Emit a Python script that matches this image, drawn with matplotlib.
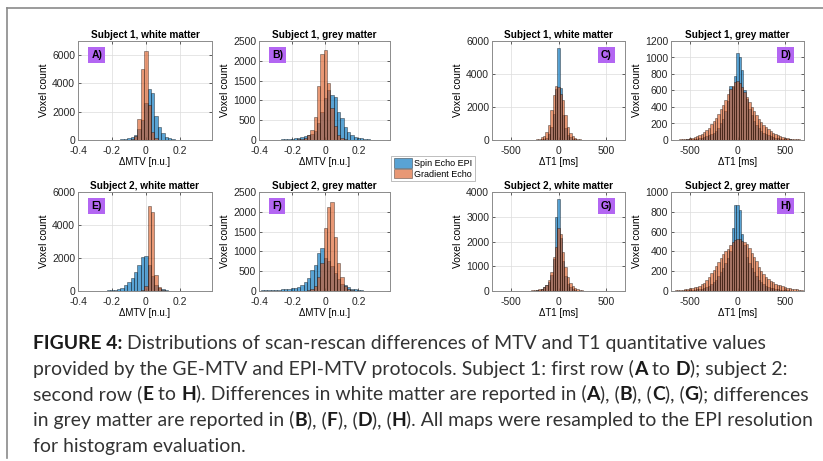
import matplotlib
matplotlib.use('Agg')
import matplotlib.pyplot as plt
from matplotlib.patches import Patch
from matplotlib.lines import Line2D
import numpy as np

# bin centres (MTV in n.u., T1 in ms)
MTV_CENTERS = np.round(np.arange(-0.38, 0.365, 0.02), 2)
MTV_WIDTH = 0.02
T1_CENTERS = np.arange(-675, 676, 25)
T1_WIDTH = 25

# counts, MTV bins -0.38 .. 0.36
a_se = [1, 1, 2, 2, 3, 4, 5, 6, 8, 10, 15, 25, 45, 80, 130, 220, 380, 800, 1400,
        2600, 3600, 3300, 1700, 950, 470, 240, 120, 60, 30, 15, 8, 5, 3, 2, 1, 1, 0, 0]
a_ge = [0, 0, 0, 0, 0, 0, 0, 0, 0, 0, 0, 2, 5, 10, 20, 50, 300, 1450, 5000,
        6300, 2500, 600, 120, 30, 10, 4, 2, 0, 0, 0, 0, 0, 0, 0, 0, 0, 0, 0]
b_se = [5, 6, 7, 8, 10, 12, 15, 20, 25, 30, 40, 55, 70, 90, 120, 160, 230, 420, 700,
        1050, 1250, 1130, 1090, 710, 545, 335, 210, 130, 85, 60, 40, 25, 15, 10, 6, 4, 3, 2]
b_ge = [0, 0, 0, 0, 0, 0, 0, 0, 2, 4, 8, 15, 30, 60, 125, 250, 590, 1360, 2180,
        2265, 1450, 800, 350, 120, 40, 15, 6, 3, 1, 0, 0, 0, 0, 0, 0, 0, 0, 0]
e_se = [3, 4, 6, 8, 10, 15, 20, 30, 40, 60, 80, 120, 200, 345, 550, 810, 1160, 1600, 2070,
        2130, 1550, 900, 350, 200, 100, 50, 25, 15, 8, 5, 3, 2, 1, 1, 0, 0, 0, 0]
e_ge = [0, 0, 0, 0, 0, 0, 0, 0, 0, 0, 0, 0, 0, 0, 0, 0, 5, 20, 60,
        280, 5180, 4770, 950, 250, 60, 20, 8, 3, 0, 0, 0, 0, 0, 0, 0, 0, 0, 0]
f_se = [15, 18, 20, 25, 30, 35, 40, 45, 55, 70, 85, 110, 160, 230, 340, 525, 650, 950, 1075,
        830, 760, 640, 460, 300, 180, 140, 90, 60, 40, 25, 15, 10, 6, 4, 2, 1, 1, 0]
f_ge = [0, 0, 0, 0, 0, 0, 0, 0, 0, 0, 0, 0, 0, 10, 20, 50, 130, 350, 700,
        1580, 2110, 2240, 1355, 695, 355, 130, 60, 30, 12, 5, 2, 0, 0, 0, 0, 0, 0, 0]

# counts, T1 bins -675 .. 675
c_se = [0, 0, 0, 0, 0, 0, 0, 0, 0, 0, 0, 1, 1, 2, 3, 4, 6, 9, 14, 20, 40, 80, 150, 350, 800, 1600, 3100,
        5600,
        3150, 1500, 700, 330, 160, 80, 40, 20, 12, 8, 5, 3, 2, 1, 1, 0, 0, 0, 0, 0, 0, 0, 0, 0, 0, 0, 0]
c_ge = [0, 0, 0, 0, 0, 0, 1, 1, 2, 3, 4, 5, 7, 9, 12, 15, 20, 30, 50, 90, 160, 250, 480, 900, 1800, 2700, 3250,
        3200,
        2800, 2400, 1500, 800, 440, 240, 130, 70, 40, 25, 15, 10, 7, 5, 4, 3, 2, 1, 1, 1, 0, 0, 0, 0, 0, 0, 0]
d_se = [2, 3, 3, 4, 5, 6, 8, 10, 12, 15, 18, 22, 28, 35, 45, 55, 70, 90, 115, 150, 200, 260, 350, 470, 650, 640, 770,
        1050,
        1010, 850, 600, 500, 380, 300, 235, 185, 145, 115, 90, 70, 55, 45, 35, 28, 22, 18, 15, 12, 10, 8, 6, 5, 4, 3, 2]
d_ge = [4, 5, 6, 8, 10, 12, 15, 20, 25, 35, 45, 55, 75, 95, 120, 150, 190, 230, 270, 320, 370, 430, 490, 560, 620, 660, 700,
        720,
        690, 640, 580, 520, 460, 400, 350, 300, 260, 220, 185, 155, 130, 105, 85, 70, 58, 48, 38, 30, 24, 18, 14, 11, 9, 7, 5]
g_se = [0, 0, 0, 0, 0, 0, 0, 0, 1, 1, 2, 3, 4, 5, 7, 10, 14, 20, 30, 50, 100, 175, 240, 380, 650, 1300, 3000,
        3700,
        2150, 1200, 600, 300, 150, 80, 40, 20, 12, 8, 5, 3, 2, 1, 1, 0, 0, 0, 0, 0, 0, 0, 0, 0, 0, 0, 0]
g_ge = [0, 0, 0, 0, 0, 0, 1, 1, 2, 3, 4, 6, 8, 10, 14, 20, 28, 40, 60, 70, 100, 150, 260, 430, 770, 1380, 1790,
        2530,
        2300, 1590, 980, 570, 325, 190, 110, 70, 45, 30, 20, 14, 10, 7, 5, 4, 3, 2, 1, 1, 0, 0, 0, 0, 0, 0, 0]
h_se = [2, 3, 3, 4, 5, 6, 7, 9, 11, 13, 16, 20, 25, 32, 40, 52, 68, 88, 115, 150, 190, 230, 280, 330, 400, 635, 865,
        865,
        820, 580, 465, 345, 280, 230, 190, 150, 115, 90, 70, 55, 42, 33, 26, 20, 16, 13, 10, 8, 6, 5, 4, 3, 3, 2, 2]
h_ge = [5, 8, 10, 12, 15, 18, 22, 27, 33, 38, 45, 55, 70, 85, 110, 140, 180, 215, 250, 290, 330, 370, 400, 420, 460, 490, 520,
        530,
        530, 510, 490, 470, 430, 380, 340, 300, 240, 200, 170, 145, 120, 100, 90, 75, 65, 58, 50, 45, 35, 28, 25, 20, 17, 14, 12]

titles = ['Subject 1, white matter', 'Subject 1, grey matter', 'Subject 1, white matter', 'Subject 1, grey matter',
          'Subject 2, white matter', 'Subject 2, grey matter', 'Subject 2, white matter', 'Subject 2, grey matter']
letters = ['A)', 'B)', 'C)', 'D)', 'E)', 'F)', 'G)', 'H)']
series = [(a_se, a_ge), (b_se, b_ge), (c_se, c_ge), (d_se, d_ge),
          (e_se, e_ge), (f_se, f_ge), (g_se, g_ge), (h_se, h_ge)]
ylims = [7000, 2500, 6000, 1200, 6000, 2500, 4000, 1000]
ysteps = [2000, 500, 2000, 200, 2000, 500, 1000, 200]

SE_COLOR = (0.0, 0.447, 0.741)
GE_COLOR = (0.85, 0.325, 0.098)
BOX_COLOR = '#b366f2'
EDGE = (0, 0, 0, 0.5)

plt.rcParams['font.family'] = ['Liberation Sans', 'DejaVu Sans']
plt.rcParams['font.size'] = 7

W, H = 823, 461
fig = plt.figure(figsize=(W / 100, H / 100), dpi=100)

cols = [(78, 212), (259, 390), (492, 625), (671, 804)]
rows = [(41, 140), (192, 291)]

for i in range(8):
    r, c = divmod(i, 4)
    l, rr = cols[c]
    t, b = rows[r]
    ax = fig.add_axes([l / W, 1 - b / H, (rr - l) / W, (b - t) / H])
    mtv = c < 2
    centers = MTV_CENTERS if mtv else T1_CENTERS
    width = MTV_WIDTH if mtv else T1_WIDTH
    se, ge = series[i]
    ax.bar(centers, se, width=width, color=SE_COLOR, alpha=0.65, edgecolor=EDGE, linewidth=0.4)
    ax.bar(centers, ge, width=width, color=GE_COLOR, alpha=0.6, edgecolor=EDGE, linewidth=0.4)
    if mtv:
        ax.set_xlim(-0.4, 0.39)
        ax.set_xticks([-0.4, -0.2, 0, 0.2])
        ax.set_xticklabels(['-0.4', '-0.2', '0', '0.2'])
        ax.set_xlabel('\u0394MTV [n.u.]', labelpad=0.5)
    else:
        ax.set_xlim(-700, 700)
        ax.set_xticks([-500, 0, 500])
        ax.set_xticklabels(['-500', '0', '500'])
        ax.set_xlabel('\u0394T1 [ms]', labelpad=0.5)
    ax.set_ylim(0, ylims[i])
    ax.set_yticks(np.arange(0, ylims[i] + 1, ysteps[i]))
    ax.set_ylabel('Voxel count', labelpad=2, fontsize=7.5)
    ax.set_title(titles[i], fontweight='bold', fontsize=7.2, pad=2)
    ax.grid(True, color='#dcdcdc', linewidth=0.5)
    ax.set_axisbelow(True)
    ax.tick_params(direction='in', length=2.5, width=0.5, top=True, right=True,
                   colors='#262626', labelsize=7.5)
    ax.tick_params(axis='x', pad=4.2)
    ax.tick_params(axis='y', pad=2)
    for s in ax.spines.values():
        s.set_color('#8c8c8c')
        s.set_linewidth(0.7)
    bx = 0.14 if c < 2 else 0.86
    ax.text(bx, 0.86, letters[i], transform=ax.transAxes, ha='center', va='center',
            fontweight='bold', fontsize=7.5,
            bbox=dict(boxstyle='square,pad=0.3', fc=BOX_COLOR, ec='none'))

handles = [Patch(facecolor=SE_COLOR, alpha=0.65, edgecolor=EDGE, linewidth=0.4, label='Spin Echo EPI'),
           Patch(facecolor=GE_COLOR, alpha=0.6, edgecolor=EDGE, linewidth=0.4, label='Gradient Echo')]
leg = fig.legend(handles=handles, loc='center', bbox_to_anchor=(433 / W, 1 - 168.5 / H),
                 fontsize=6.5, frameon=True, fancybox=False, borderpad=0.25,
                 labelspacing=0.1, handlelength=2.0, handleheight=1.2, handletextpad=0.3)
leg.get_frame().set_edgecolor('#a0a0a0')
leg.get_frame().set_linewidth(0.6)

# page border
fig.add_artist(Line2D([7 / W, 1], [1 - 8 / H, 1 - 8 / H], transform=fig.transFigure,
                      color='#8a8a8a', linewidth=1.2))
fig.add_artist(Line2D([7 / W, 7 / W], [1 - 8 / H, 1 - 458 / H], transform=fig.transFigure,
                      color='#8a8a8a', linewidth=1.2))

# caption with bold runs
N, B = 'normal', 'bold'
caption = [
    [('FIGURE 4:', B), (' Distributions of scan-rescan differences of MTV and T1 quantitative values', N)],
    [('provided by the GE-MTV and EPI-MTV protocols. Subject 1: first row (', N), ('A', B), (' to ', N),
     ('D', B), ('); subject 2:', N)],
    [('second row (', N), ('E', B), (' to ', N), ('H', B), ('). Differences in white matter are reported in (', N),
     ('A', B), ('), (', N), ('B', B), ('), (', N), ('C', B), ('), (', N), ('G', B), ('); differences', N)],
    [('in grey matter are reported in (', N), ('B', B), ('), (', N), ('F', B), ('), (', N), ('D', B), ('), (', N),
     ('H', B), ('). All maps were resampled to the EPI resolution', N)],
    [('for histogram evaluation.', N)],
]
cap_font = ['Lato', 'DejaVu Sans']
renderer = fig.canvas.get_renderer()


def run_width(s, weight, size):
    t1 = fig.text(0, 0, '|' + s + '|', family=cap_font, fontweight=weight, fontsize=size)
    t2 = fig.text(0, 0, '||', family=cap_font, fontweight=weight, fontsize=size)
    w = t1.get_window_extent(renderer).width - t2.get_window_extent(renderer).width
    t1.remove()
    t2.remove()
    return w


# fit the widest line to the caption width
size = 12
w3 = sum(run_width(s, wt, size) for s, wt in caption[2])
size = size * (808 - 33) / w3

x0, y0, dy = 33, 349, 25.7
for k, line in enumerate(caption):
    x = x0
    y = y0 + k * dy
    for s, wt in line:
        fig.text(x / W, 1 - y / H, s, family=cap_font, fontweight=wt, fontsize=size,
                 color='#333333' if wt == N else '#1a1a1a', va='baseline', ha='left')
        x += run_width(s, wt, size)

fig.savefig('out.png', dpi=100)
